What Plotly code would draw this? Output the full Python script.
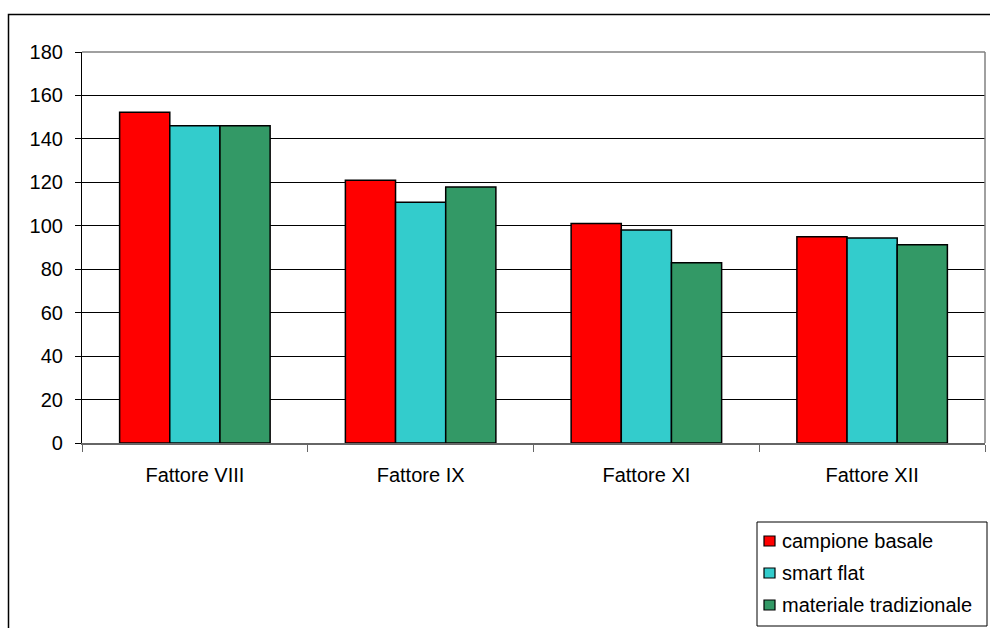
import plotly.graph_objects as go

# Coagulation factor levels per group
categories = ["Fattore VIII", "Fattore IX", "Fattore XI", "Fattore XII"]
series_names = ["campione basale", "smart flat", "materiale tradizionale"]
campione_basale = [152.3, 121.0, 101.0, 95.0]
smart_flat = [146.0, 110.8, 98.0, 94.4]
materiale_tradizionale = [146.0, 117.9, 83.0, 91.3]
colors = ["#FF0000", "#33CCCC", "#339966"]
y_ticks = [0, 20, 40, 60, 80, 100, 120, 140, 160, 180]

FONT = "Arial, Liberation Sans, sans-serif"
FS = 20

W, H = 990, 628
L, R, T, B = 82, 5, 52, 185
pw, ph = W - L - R, H - T - B


def px_x(p):
    return (p - L) / pw


def px_y(p):
    return (H - B - p) / ph


fig = go.Figure()
for i, (name, vals) in enumerate(zip(series_names, [campione_basale, smart_flat, materiale_tradizionale])):
    fig.add_trace(go.Bar(
        x=categories, y=vals, name=name, showlegend=False,
        marker=dict(color=colors[i], line=dict(color="#000000", width=1.5)),
    ))

shapes = [
    # outer chart frame
    dict(type="rect", xref="paper", yref="paper",
         x0=px_x(8.5), x1=px_x(1000), y0=px_y(640), y1=px_y(14.5),
         line=dict(color="#000000", width=1.5), layer="below"),
    # plot area border (top and right)
    dict(type="line", xref="paper", yref="paper", x0=0, x1=1, y0=1, y1=1,
         line=dict(color="#808080", width=1.5), layer="above"),
    dict(type="line", xref="paper", yref="paper", x0=1, x1=1, y0=0, y1=1,
         line=dict(color="#808080", width=1.5), layer="above"),
    # legend box
    dict(type="rect", xref="paper", yref="paper",
         x0=px_x(757), x1=px_x(987), y0=px_y(626), y1=px_y(522),
         line=dict(color="#000000", width=1), fillcolor="white", layer="above"),
]

annotations = []
row_centers = [541, 573, 605]
for name, col, yc in zip(series_names, colors, row_centers):
    shapes.append(dict(
        type="rect", xref="paper", yref="paper",
        x0=px_x(764), x1=px_x(775), y0=px_y(yc + 5), y1=px_y(yc - 5),
        line=dict(color="#000000", width=1.2), fillcolor=col, layer="above"))
    annotations.append(dict(
        xref="paper", yref="paper", x=px_x(780), y=px_y(yc),
        xanchor="left", yanchor="middle", showarrow=False, text=name,
        font=dict(family=FONT, size=FS, color="#000000")))

fig.update_layout(
    width=W, height=H,
    margin=dict(l=L, r=R, t=T, b=B),
    paper_bgcolor="white", plot_bgcolor="white",
    font=dict(family=FONT, size=FS, color="#000000"),
    barmode="group", bargap=1/3, bargroupgap=0,
    shapes=shapes, annotations=annotations,
    showlegend=False,
    xaxis=dict(
        type="category", tickson="boundaries", ticks="outside", ticklen=7,
        tickcolor="#666666", showline=True, linecolor="#666666", linewidth=1.5,
        showgrid=False, ticklabelstandoff=13,
        tickfont=dict(family=FONT, size=FS, color="#000000"),
    ),
    yaxis=dict(
        range=[0, 180], tickvals=y_ticks, ticks="outside", ticklen=6,
        tickcolor="#000000", showline=True, linecolor="#000000", linewidth=1.2,
        showgrid=True, gridcolor="#000000", gridwidth=1, zeroline=False,
        ticklabelstandoff=8,
        tickfont=dict(family=FONT, size=FS, color="#000000"),
    ),
)

fig.write_html("out.html")
